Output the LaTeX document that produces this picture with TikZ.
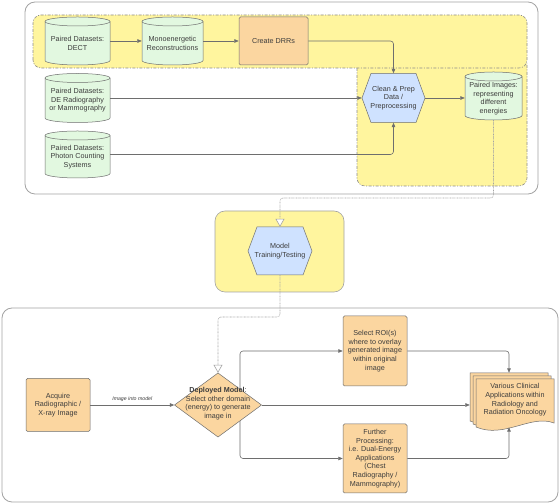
\documentclass[tikz,border=0pt]{standalone}
\usepackage{fontspec}
\setmainfont{Liberation Sans}
\usetikzlibrary{arrows.meta,calc}
\pgfdeclarelayer{back}
\pgfdeclarelayer{mid}
\pgfsetlayers{back,mid,main}
\definecolor{yel}{HTML}{FFF59E}
\definecolor{grn}{HTML}{E2F8E0}
\definecolor{org}{HTML}{FBD6A0}
\definecolor{blu}{HTML}{CFE2FF}
\definecolor{edge}{HTML}{6E6E6E}
\definecolor{frame}{HTML}{A3A3A3}
\definecolor{dashc}{HTML}{8C8C8C}
\definecolor{txt}{HTML}{3C3C3C}
\tikzset{
  every node/.style={font=\fontsize{7.2}{8.6}\selectfont, text=txt, align=center, inner sep=0pt},
  frm/.style={draw=frame, line width=0.8pt, rounded corners=10pt},
  yzone/.style={draw=dashc, dash pattern=on 3pt off 1.5pt on 1pt off 1.5pt, line width=0.6pt, rounded corners=8pt},
  shp/.style={draw=edge, line width=0.5pt},
  recbox/.style={shp, fill=org, rounded corners=1.5pt},
  conn/.style={draw=edge, line width=0.6pt, rounded corners=3pt, -{Triangle[length=4.5pt,width=3.6pt]}},
  dotc/.style={draw=frame, line width=0.6pt, dash pattern=on 0.7pt off 0.7pt, rounded corners=3pt, -{Triangle[open,length=8pt,width=9pt,line width=0.6pt,fill=white]}},
  lbl/.style={font=\fontsize{5.2}{6}\selectfont\itshape}
}
% cylinder: name, x, y, w, h, text
\newcommand\cylnode[6]{%
  \filldraw[shp, fill=grn] ({#2-#4/2},{#3+#5/2-4.5}) -- ({#2-#4/2},{#3-#5/2+4.5})
    arc[start angle=180, end angle=360, x radius=#4/2, y radius=4.5]
    -- ({#2+#4/2},{#3+#5/2-4.5})
    arc[start angle=0, end angle=180, x radius=#4/2, y radius=4.5] -- cycle;
  \draw[shp] ({#2-#4/2},{#3+#5/2-4.5}) arc[start angle=180, end angle=360, x radius=#4/2, y radius=4.5];
  \node[minimum width=#4pt, minimum height=#5pt] (#1) at (#2,#3) {};
  \node (#1t) at (#2,{#3-2.5}) {#6};}
% hexagon: name, x, y, w, h, text
\newcommand\hexnode[6]{%
  \filldraw[shp, fill=blu] ({#2-#4/2},#3) -- ({#2-#4/2+9},{#3+#5/2}) -- ({#2+#4/2-9},{#3+#5/2})
    -- ({#2+#4/2},#3) -- ({#2+#4/2-9},{#3-#5/2}) -- ({#2-#4/2+9},{#3-#5/2}) -- cycle;
  \node[minimum width=#4pt, minimum height=#5pt] (#1) at (#2,#3) {#6};}
% diamond: name, x, y, w, h, text
\newcommand\dianode[6]{%
  \filldraw[shp, fill=org] ({#2-#4/2},#3) -- (#2,{#3+#5/2}) -- ({#2+#4/2},#3) -- (#2,{#3-#5/2}) -- cycle;
  \node[minimum width=#4pt, minimum height=#5pt] (#1) at (#2,#3) {};
  \node (#1t) at (#2,{#3+1.5}) {#6};}
% document: x0, ytop
\newcommand\docshape[2]{%
  \filldraw[shp, fill=org] ({#1+78},{#2-44}) .. controls ({#1+55},{#2-35}) and ({#1+28},{#2-60}) .. (#1,{#2-48}) -- (#1,#2) -- ({#1+78},#2) -- cycle;}
\begin{document}
\begin{tikzpicture}[x=1pt,y=1pt]
\useasboundingbox (0,0) rectangle (560,503);
\begin{pgfonlayer}{back}
  \draw[frm, fill=white] (25,309) rectangle (538,501);
  \fill[yel, rounded corners=8pt] (33,435) rectangle (527,488);
  \fill[yel, rounded corners=8pt] (357,317) rectangle (527,445);
  \draw[yzone] (33,435) rectangle (527,488);
  \draw[yzone] (357,435) -- (357,317) -- (527,317) -- (527,440);
  \draw[frm, fill=yel, line width=0.6pt] (215,211) rectangle (344,292);
  \draw[frm, fill=white] (2,1) rectangle (558,195);
\end{pgfonlayer}

% top section
\cylnode{dect}{77.5}{462}{65}{48}{Paired Datasets:\\DECT}
\cylnode{mono}{172.5}{462}{61}{48}{Monoenergetic\\Reconstructions}
\node[recbox, minimum width=69pt, minimum height=48pt] (drr) at (273.5,462) {Create DRRs};
\cylnode{dera}{77.5}{405}{65}{49}{Paired Datasets:\\DE Radiography\\or Mammography}
\cylnode{pcs}{77.5}{348.5}{65}{47}{Paired Datasets:\\Photon Counting\\Systems}
\hexnode{clean}{393.5}{405}{63}{49}{Clean \& Prep\\Data /\\Preprocessing}
\cylnode{pimg}{493.5}{407}{57}{48}{Paired Images:\\representing\\different\\energies}

% model
\hexnode{model}{280}{252}{64}{48}{Model\\Training/Testing}

% bottom section
\node[recbox, minimum width=64pt, minimum height=53pt] (acq) at (58,98) {Acquire\\Radiographic /\\X-ray Image};
\dianode{dm}{218}{98}{87}{64}{\textbf{Deployed Model}:\\Select other domain\\(energy) to generate\\image in}
\node[recbox, minimum width=64pt, minimum height=70pt] (roi) at (375,152) {Select ROI(s)\\where to overlay\\generated image\\within original\\image};
\node[recbox, minimum width=64pt, minimum height=69pt] (fur) at (375,44.5) {Further\\Processing:\\i.e. Dual-Energy\\Applications\\(Chest\\Radiography /\\Mammography)};
\docshape{470}{130}
\docshape{473}{127}
\docshape{476}{124}
\node[minimum width=84pt, minimum height=56pt] (stack) at (512,102) {};
\node (stackt) at (515,103) {Various Clinical\\Applications within\\Radiology and\\Radiation Oncology};

% connectors
\draw[conn] (dect.east) -- (mono.west);
\draw[conn] (mono.east) -- (drr.west);
\draw[conn] (drr.east) -| (clean.north);
\draw[conn] (dera.east) -- (clean.west);
\draw[conn] (pcs.east) -| (clean.south);
\draw[conn] (clean.east) -- (clean.east -| pimg.west);
\coordinate (dA) at (280,305);
\draw[dotc] (pimg.south) |- (dA) -- (model.north);
\coordinate (dB) at (218,186);
\draw[dotc] (model.south) |- (dB) -- (dm.north);
\draw[conn] (acq.east) -- node[lbl, above=3pt] (lab) {Image into model} (dm.west);
\coordinate (br) at (240,98);
\begin{pgfonlayer}{mid}
  \draw[conn] (br) |- (roi.west);
  \draw[conn] (br) |- (fur.west);
\end{pgfonlayer}
\draw[conn] (dm.east) -- (dm.east -| stack.west);
\draw[conn] (roi.east) -| ([xshift=-3pt]stack.north);
\draw[conn] (fur.east) -| ([xshift=-3pt,yshift=2pt]stack.south);
\end{tikzpicture}
\end{document}
